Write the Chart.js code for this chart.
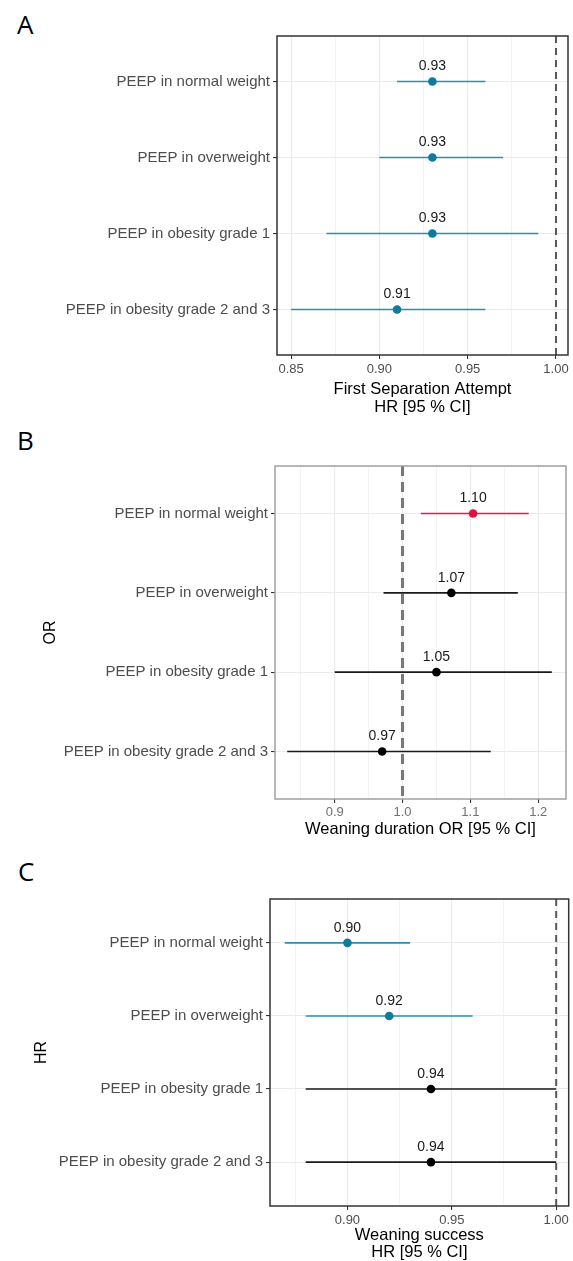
<!DOCTYPE html>
<html>
<head>
<meta charset="utf-8">
<script src="https://cdn.jsdelivr.net/npm/chart.js@4.4.1/dist/chart.umd.min.js"></script>
<style>
body { margin: 0; background: #fff; width: 573px; height: 1261px; position: relative; overflow: hidden; }
canvas { position: absolute; left: 0; }
.tag { position: absolute; font-family: "Open Sans", sans-serif; font-size: 26px; line-height: 1; color: #000; }
</style>
</head>
<body>
<div class="tag" style="left:17px;top:11px">A</div>
<div class="tag" style="left:17px;top:427px">B</div>
<div class="tag" style="left:18px;top:858px">C</div>
<canvas id="chartA" width="573" height="420" style="top:0px"></canvas>
<canvas id="chartB" width="573" height="425" style="top:420px"></canvas>
<canvas id="chartC" width="573" height="420" style="top:845px"></canvas>
<script>
// rows, top to bottom
const categories = ["PEEP in normal weight", "PEEP in overweight", "PEEP in obesity grade 1", "PEEP in obesity grade 2 and 3"];

// A - first separation attempt, HR
const aEst  = [0.93, 0.93, 0.93, 0.91];
const aLow  = [0.91, 0.90, 0.87, 0.85];
const aHigh = [0.96, 0.97, 0.99, 0.96];
const aGroup = ["lower", "lower", "lower", "lower"];
const aMajor = [0.85, 0.90, 0.95, 1.00];
const aMinor = [0.875, 0.925, 0.975];

// B - weaning duration, OR
const bEst  = [1.104, 1.072, 1.05, 0.97];
const bLow  = [1.027, 0.972, 0.90, 0.83];
const bHigh = [1.186, 1.17, 1.22, 1.13];
const bGroup = ["higher", "ns", "ns", "ns"];
const bMajor = [0.9, 1.0, 1.1, 1.2];
const bMinor = [0.85, 0.95, 1.05, 1.15];

// C - weaning success, HR
const cEst  = [0.90, 0.92, 0.94, 0.94];
const cLow  = [0.87, 0.88, 0.88, 0.88];
const cHigh = [0.93, 0.96, 1.00, 1.00];
const cGroup = ["lower", "lower", "ns", "ns"];
const cMajor = [0.90, 0.95, 1.00];
const cMinor = [0.875, 0.925, 0.975];

const LINE = { lower: "#2a8fae", higher: "#e31a4b", ns: "#1a1a1a" };
const DOT  = { lower: "#0e7b9b", higher: "#e0103f", ns: "#000000" };
const FONT = '"Liberation Sans", Arial, sans-serif';

const forestPlugin = {
  id: "forest",
  beforeDatasetsDraw(chart, args, o) {
    const { ctx, chartArea: a, scales: { x, y } } = chart;
    ctx.save();
    // confidence intervals
    ctx.lineWidth = 1.6;
    o.low.forEach((lo, i) => {
      const py = y.getPixelForValue(i);
      ctx.strokeStyle = LINE[o.group[i]];
      ctx.beginPath();
      ctx.moveTo(x.getPixelForValue(lo), py);
      ctx.lineTo(x.getPixelForValue(o.high[i]), py);
      ctx.stroke();
    });
    // reference line at 1
    const rx = x.getPixelForValue(1);
    ctx.strokeStyle = o.refColor;
    ctx.lineWidth = o.refWidth;
    ctx.setLineDash(o.refDash);
    ctx.beginPath();
    ctx.moveTo(rx, a.top);
    ctx.lineTo(rx, a.bottom);
    ctx.stroke();
    ctx.restore();
  },
  afterDatasetsDraw(chart, args, o) {
    const { ctx, scales: { x, y } } = chart;
    ctx.save();
    ctx.font = "14px " + FONT;
    ctx.fillStyle = "#1a1a1a";
    ctx.textAlign = "center";
    ctx.textBaseline = "middle";
    o.est.forEach((v, i) => {
      ctx.fillText(v.toFixed(2), x.getPixelForValue(v), y.getPixelForValue(i) - 15);
    });
    ctx.restore();
  },
  afterDraw(chart, args, o) {
    const { ctx, chartArea: a } = chart;
    ctx.save();
    ctx.strokeStyle = o.boxColor;
    ctx.lineWidth = 1.5;
    ctx.strokeRect(a.left, a.top, a.right - a.left, a.bottom - a.top);
    ctx.restore();
  }
};

function near(list, v) { return list.some(m => Math.abs(m - v) < 1e-9); }

function forest(id, p) {
  return new Chart(document.getElementById(id), {
    type: "scatter",
    data: {
      datasets: [{
        data: p.est.map((v, i) => ({ x: v, y: i })),
        pointRadius: 4.3,
        pointHoverRadius: 4.3,
        pointBorderWidth: 0,
        pointBackgroundColor: p.group.map(g => DOT[g])
      }]
    },
    options: {
      responsive: false,
      animation: false,
      events: [],
      layout: { padding: p.pad },
      plugins: {
        legend: { display: false },
        tooltip: { enabled: false },
        forest: {
          est: p.est, low: p.low, high: p.high, group: p.group,
          refColor: p.refColor, refWidth: p.refWidth, refDash: p.refDash, boxColor: p.boxColor
        }
      },
      scales: {
        x: {
          type: "linear",
          min: p.xmin,
          max: p.xmax,
          afterBuildTicks(s) { s.ticks = p.major.concat(p.minor).sort((a, b) => a - b).map(v => ({ value: v })); },
          afterFit(s) { s.height = p.xh; },
          border: { display: false },
          grid: {
            color: "#ebebeb",
            lineWidth: c => near(p.major, c.tick.value) ? 1.1 : 0.6,
            tickLength: 4,
            tickColor: c => near(p.major, c.tick.value) ? "#333" : "rgba(0,0,0,0)"
          },
          ticks: {
            autoSkip: false,
            maxRotation: 0,
            padding: p.tickPad,
            color: p.tickColor,
            font: { family: FONT, size: 13 },
            callback: v => near(p.major, v) ? v.toFixed(p.dec) : ""
          },
          title: {
            display: true,
            text: p.xtitle,
            color: "#000",
            font: { family: FONT, size: 16.5, lineHeight: 1.05 },
            padding: { top: 0, bottom: p.titlePad }
          }
        },
        y: {
          type: "linear",
          reverse: true,
          min: -0.6,
          max: 3.6,
          afterBuildTicks(s) { s.ticks = categories.map((c, i) => ({ value: i })); },
          afterFit(s) { s.width = p.yw; },
          border: { display: false },
          grid: { color: "#ebebeb", lineWidth: 1.1, tickLength: 4, tickColor: "#333" },
          ticks: {
            autoSkip: false,
            padding: 3,
            color: "#4d4d4d",
            font: { family: FONT, size: 15 },
            callback: v => categories[v]
          },
          title: {
            display: !!p.ytitle,
            text: p.ytitle,
            color: "#000",
            font: { family: FONT, size: 16 },
            padding: { top: p.yTitlePad, bottom: 0 }
          }
        }
      }
    },
    plugins: [forestPlugin]
  });
}

forest("chartA", {
  est: aEst, low: aLow, high: aHigh, group: aGroup, major: aMajor, minor: aMinor,
  xmin: 0.842, xmax: 1.0068, dec: 2,
  pad: { left: 0, right: 5, top: 36, bottom: 0 }, yw: 277, xh: 65,
  tickPad: 3, titlePad: 4.3, tickColor: "#4d4d4d",
  xtitle: ["First Separation Attempt", "HR [95 % CI]"], ytitle: "",
  refColor: "#595959", refWidth: 2, refDash: [7, 5], boxColor: "#333"
});

forest("chartB", {
  est: bEst, low: bLow, high: bHigh, group: bGroup, major: bMajor, minor: bMinor,
  xmin: 0.812, xmax: 1.241, dec: 1,
  pad: { left: 0, right: 7, top: 46, bottom: 0 }, yw: 275, xh: 46,
  tickPad: 2, titlePad: 7.3, tickColor: "#707070",
  xtitle: "Weaning duration OR [95 % CI]", ytitle: "OR", yTitlePad: 41.4,
  refColor: "#777", refWidth: 3, refDash: [10, 6], boxColor: "#a0a0a0"
});

forest("chartC", {
  est: cEst, low: cLow, high: cHigh, group: cGroup, major: cMajor, minor: cMinor,
  xmin: 0.8629, xmax: 1.006, dec: 2,
  pad: { left: 0, right: 3, top: 54, bottom: 0 }, yw: 270, xh: 59,
  tickPad: 3, titlePad: 3.6, tickColor: "#4d4d4d",
  xtitle: ["Weaning success", "HR [95 % CI]"], ytitle: "HR", yTitlePad: 32.4,
  refColor: "#595959", refWidth: 2, refDash: [7, 5], boxColor: "#333"
});
</script>
</body>
</html>
